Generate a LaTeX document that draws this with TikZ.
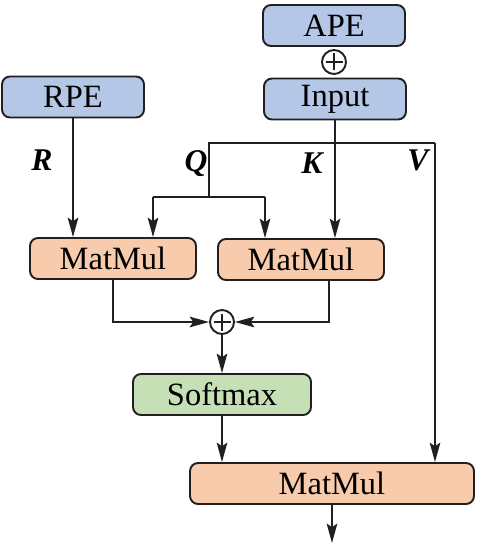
\documentclass[tikz,border=0pt]{standalone}
\usepackage{fontspec}
\setmainfont{Liberation Serif}
\usepackage{xcolor}
\usepackage{tikz}
\usetikzlibrary{arrows.meta, positioning, calc}

\definecolor{peblue}{HTML}{B4C7E7}
\definecolor{mmorange}{HTML}{F8CBAD}
\definecolor{smgreen}{HTML}{C5E0B4}
\definecolor{inkdark}{HTML}{231F20}

\begin{document}
\begin{tikzpicture}[
        x=0.02cm, y=-0.02cm,
        block/.style={
            rectangle,
            rounded corners=0.16cm,
            draw=inkdark,
            line width=1.1pt,
            minimum height=0.82cm,
            inner sep=0pt,
            font=\fontsize{18.5}{22}\selectfont
        },
        pebox/.style={block, fill=peblue, minimum width=2.84cm},
        mmbox/.style={block, fill=mmorange, minimum width=3.32cm},
        smbox/.style={block, fill=smgreen, minimum width=3.56cm},
        addop/.style={
            circle,
            draw=inkdark,
            line width=1.1pt,
            fill=white,
            minimum size=0.48cm,
            inner sep=0pt,
            path picture={
                \draw[line width=1.1pt] (path picture bounding box.center) ++(-0.17cm,0cm) -- ++(0.34cm,0cm);
                \draw[line width=1.1pt] (path picture bounding box.center) ++(0cm,-0.17cm) -- ++(0cm,0.34cm);
            }
        },
        tag/.style={font=\fontsize{18}{22}\selectfont\bfseries\itshape},
        wire/.style={draw=inkdark, line width=1.1pt},
        arrow/.style={wire, -{Stealth[length=11pt, width=6pt, inset=2pt]}}
    ]
    \useasboundingbox (0,0) rectangle (480,550);

    \node[pebox] (ape) at (334, 25.5) {APE};
    \node[addop] (addtop) at (334, 62) {};
    \node[pebox] (input) at (335, 99) {Input};
    \node[pebox] (rpe) at (73, 97) {RPE};

    \node[mmbox] (matmulr) at (113, 258.5) {MatMul};
    \node[mmbox] (matmulk) at (301, 259.5) {MatMul};
    \node[addop] (addmid) at (222, 322) {};
    \node[smbox] (softmax) at (222, 394.5) {Softmax};
    \node[block, fill=mmorange, minimum width=5.68cm] (matmulv) at (332, 483.5) {MatMul};

    \node[tag] (lblr) at (42, 160) {R};
    \node[tag] (lblq) at (196, 164) {Q};
    \node[tag] (lblk) at (312, 163) {K};
    \node[tag] (lblv) at (418, 160) {V};

    \coordinate (qtop) at (209, 143);
    \coordinate (vtop) at (435, 143);
    \coordinate (qfork) at (209, 197);
    \coordinate (qleft) at (153, 197);
    \coordinate (qright) at (265, 197);
    \coordinate (out) at (332, 543);

    % Q K V split
    \draw[wire] (vtop) -- (qtop) -- (qfork);
    \draw[wire] (qleft) -- (qright);
    \draw[arrow] (qleft) -- (qleft |- matmulr.north);
    \draw[arrow] (qright) -- (qright |- matmulk.north);
    \draw[arrow] (input.south) -- (input.south |- matmulk.north);
    \draw[arrow] (vtop) -- (vtop |- matmulv.north);
    \draw[arrow] (rpe.south) -- (rpe.south |- matmulr.north);

    % scores
    \draw[arrow] (matmulr.south) |- (addmid.west);
    \draw[arrow] ([xshift=0.56cm]matmulk.south) |- (addmid.east);
    \draw[arrow] (addmid.south) -- (addmid.south |- softmax.north);
    \draw[arrow] (softmax.south) -- (softmax.south |- matmulv.north);
    \draw[arrow] (matmulv.south) -- (out);

\end{tikzpicture}
\end{document}
